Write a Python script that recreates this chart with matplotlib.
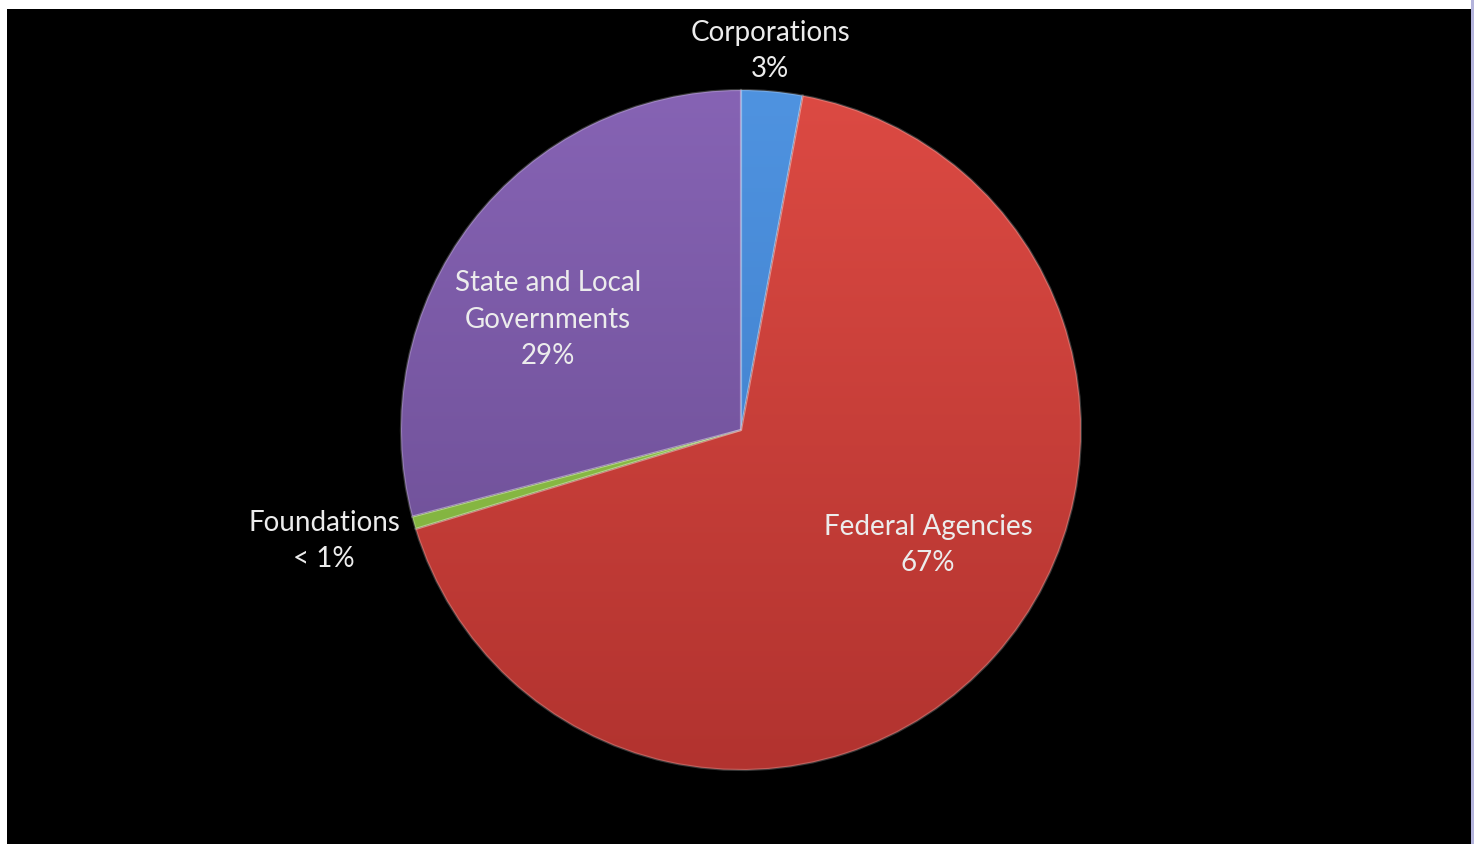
import numpy as np
import matplotlib
matplotlib.use("Agg")
import matplotlib.pyplot as plt
from matplotlib.patches import Rectangle
from matplotlib.colors import to_rgb

categories = ["Corporations", "Federal Agencies", "Foundations", "State and Local\nGovernments"]
shares = [2.9, 67.4, 0.6, 29.1]
pct_labels = ["3%", "67%", "< 1%", "29%"]
top_colors = ["#4f93e0", "#dc4a43", "#9acd4e", "#8663b4"]
bottom_colors = ["#3a78c4", "#b2332f", "#78a83a", "#674a8e"]

W, H = 1478, 844
fig = plt.figure(figsize=(W / 100, H / 100), dpi=100, facecolor="white")
fig.patches.append(Rectangle((7 / W, 0), (1471 - 7) / W, (H - 9) / H,
                             transform=fig.transFigure, facecolor="black",
                             edgecolor="none", zorder=-5))
fig.patches.append(Rectangle((1471 / W, 0), 3 / W, 1,
                             transform=fig.transFigure, facecolor="#b4b4dc",
                             edgecolor="none", zorder=-5))

cx, cy, r = 741, 430, 340
ax = fig.add_axes([(cx - r) / W, (H - cy - r) / H, 2 * r / W, 2 * r / H])
ax.set_facecolor("none")
ax.patch.set_alpha(0)

wedges, _ = ax.pie(shares, startangle=90, counterclock=False, radius=1,
                   colors=top_colors,
                   wedgeprops=dict(edgecolor=(1, 1, 1, 0.22), linewidth=1.6))
ax.axis("off")

# vertical shading inside each wedge
yy = np.linspace(1, 0, 256)[:, None]
for w, ct, cb in zip(wedges, top_colors, bottom_colors):
    c1 = np.array(to_rgb(ct))
    c2 = np.array(to_rgb(cb))
    grad = (c1[None, None, :] * yy[..., None] + c2[None, None, :] * (1 - yy[..., None]))
    grad = np.repeat(grad, 4, axis=1)
    im = ax.imshow(grad, extent=(-1, 1, -1, 1), origin="upper",
                   interpolation="bicubic", zorder=w.get_zorder() + 0.1, aspect="auto")
    im.set_clip_path(w)
    w.set_facecolor("none")
    w.set_zorder(w.get_zorder() + 0.2)
ax.set_xlim(-1, 1)
ax.set_ylim(-1, 1)
ax.set_aspect("equal")

label_pos = [(770, 51), (928, 545), (324, 541), (548, 320)]
for name, pct, (px, py) in zip(categories, pct_labels, label_pos):
    fig.text(px / W, 1 - py / H, f"{name}\n{pct}", ha="center", va="center",
             color="#ececec", fontsize=20, family=["Lato", "DejaVu Sans"],
             linespacing=1.5)

fig.savefig("out.png", dpi=100, facecolor="white")
